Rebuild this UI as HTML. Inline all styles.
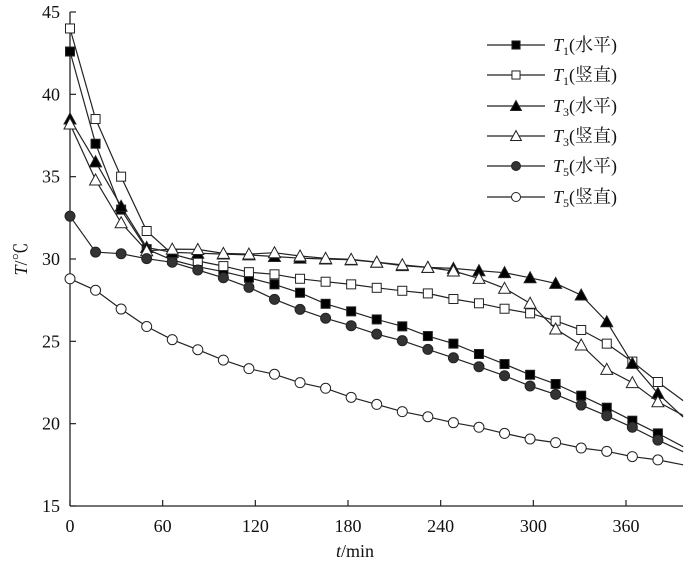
<!DOCTYPE html>
<html><head><meta charset="utf-8"><style>
body{margin:0;background:#fff}
svg{display:block}
text{font-family:"Liberation Serif","Noto Serif CJK SC",serif;fill:#111}
</style></head><body>
<svg id="chart" width="700" height="584" viewBox="0 0 700 584" xmlns="http://www.w3.org/2000/svg">
<g id="axes"></g>
<g id="series"></g>
<g id="legend"></g>
</svg>
<script>
const xTicks=[0,60,120,180,240,300,360];
const yTicks=[15,20,25,30,35,40,45];
const markerStep=16.55;
const endTime=397;
const seriesNames=["T1(水平)","T1(竖直)","T3(水平)","T3(竖直)","T5(水平)","T5(竖直)"];
const T1h=[42.6,37.0,33.0,30.6,29.94,29.53,29.23,28.86,28.46,27.95,27.28,26.82,26.33,25.91,25.32,24.86,24.23,23.62,22.97,22.41,21.7,20.97,20.18,19.41];
const T1hEnd=18.6;
const T1v=[44.0,38.5,35.0,31.7,30.3,29.88,29.57,29.2,29.07,28.8,28.62,28.46,28.25,28.07,27.91,27.57,27.31,26.98,26.7,26.25,25.69,24.86,23.77,22.53];
const T1vEnd=21.4;
const T3h=[38.5,35.9,33.2,30.7,30.4,30.35,30.3,30.25,30.15,30.05,30.0,29.95,29.8,29.6,29.49,29.43,29.29,29.17,28.86,28.52,27.81,26.19,23.66,21.84];
const T3hEnd=20.4;
const T3v=[38.2,34.8,32.2,30.5,30.6,30.58,30.34,30.3,30.38,30.18,30.04,29.98,29.81,29.65,29.49,29.27,28.82,28.22,27.31,25.75,24.78,23.3,22.49,21.33];
const T3vEnd=20.5;
const T5h=[32.6,30.42,30.32,30.02,29.8,29.33,28.86,28.28,27.55,26.94,26.4,25.95,25.44,25.04,24.51,24.0,23.46,22.91,22.29,21.78,21.13,20.48,19.78,19.0];
const T5hEnd=18.3;
const T5v=[28.8,28.1,26.96,25.9,25.1,24.49,23.86,23.34,23.0,22.49,22.15,21.6,21.17,20.73,20.42,20.06,19.78,19.41,19.07,18.85,18.52,18.32,18.0,17.8];
const T5vEnd=17.5;

const NS="http://www.w3.org/2000/svg";
const X0=70,X1=683,Y0=506,Y1=12;
function xs(t){return X0+t*(626-70)/360;}
function ys(v){return Y0-(v-15)*(Y0-Y1)/30;}
function mk(tag,attrs,parent){const e=document.createElementNS(NS,tag);for(const k in attrs)e.setAttribute(k,attrs[k]);parent.appendChild(e);return e;}
const axes=document.getElementById('axes');
let l=mk('line',{x1:X0,y1:Y1,x2:X0,y2:Y0,stroke:'#222','stroke-width':1.3},axes);


l=mk('line',{x1:X0,y1:Y0,x2:X1,y2:Y0,stroke:'#222','stroke-width':1.3},axes);


xTicks.forEach(t=>{
 const tk=mk('line',{x1:xs(t),y1:Y0,x2:xs(t),y2:Y0-6,stroke:'#222','stroke-width':1.2},axes);
 
 
 const tx=mk('text',{x:xs(t),y:Y0+26,'text-anchor':'middle','font-size':18},axes);
 tx.textContent=t;
 
 
});
yTicks.forEach(v=>{
 const tk=mk('line',{x1:X0,y1:ys(v),x2:X0+6,y2:ys(v),stroke:'#222','stroke-width':1.2},axes);
 
 
 const tx=mk('text',{x:X0-10,y:ys(v)+6,'text-anchor':'end','font-size':18},axes);
 tx.textContent=v;
 
 
});
let xt=mk('text',{x:355,y:557,'text-anchor':'middle','font-size':18},axes);
xt.innerHTML='<tspan font-style="italic">t</tspan>/min';


let yt=mk('text',{x:0,y:0,'text-anchor':'middle','font-size':18,transform:'translate(27,259) rotate(-90)'},axes);
yt.innerHTML='<tspan font-style="italic">T</tspan>/℃';



const styles=[
 {d:T1h,e:T1hEnd,shape:'square',fill:'#000',sub:'1',lab:'水平'},
 {d:T1v,e:T1vEnd,shape:'square',fill:'#fff',sub:'1',lab:'竖直'},
 {d:T3h,e:T3hEnd,shape:'tri',fill:'#000',sub:'3',lab:'水平'},
 {d:T3v,e:T3vEnd,shape:'tri',fill:'#fff',sub:'3',lab:'竖直'},
 {d:T5h,e:T5hEnd,shape:'circle',fill:'#333',sub:'5',lab:'水平'},
 {d:T5v,e:T5vEnd,shape:'circle',fill:'#fff',sub:'5',lab:'竖直'}];
function marker(shape,fill,cx,cy,parent,s){
 let e;
 if(shape==='square')e=mk('rect',{x:cx-4.5*s,y:cy-4.5*s,width:9*s,height:9*s,fill:fill,stroke:'#222','stroke-width':1},parent);
 else if(shape==='circle')e=mk('circle',{cx:cx,cy:cy,r:5*s,fill:fill,stroke:'#222','stroke-width':1},parent);
 else e=mk('polygon',{points:`${cx},${cy-6*s} ${cx+6*s},${cy+5*s} ${cx-6*s},${cy+5*s}`,fill:fill,stroke:'#222','stroke-width':1},parent);
 return e;
}
const sg=document.getElementById('series');
styles.forEach((st,i)=>{
 const g=mk('g',{},sg);
 
 
 let pts=st.d.map((v,k)=>xs(k*markerStep).toFixed(1)+','+ys(v).toFixed(1));
 pts.push(xs(endTime).toFixed(1)+','+ys(st.e).toFixed(1));
 const pl=mk('polyline',{points:pts.join(' '),fill:'none',stroke:'#222','stroke-width':1.2},g);
 
 
 st.d.forEach((v,k)=>{
  const m=marker(st.shape,st.fill,xs(k*markerStep),ys(v),g,1);
  
  
 });
});
const lg=document.getElementById('legend');
const rows=[45,75,106,136,166,197];
styles.forEach((st,i)=>{
 const g=mk('g',{},lg);
 
 
 mk('line',{x1:487,y1:rows[i],x2:545,y2:rows[i],stroke:'#222','stroke-width':1.2},g);
 marker(st.shape,st.fill,516,rows[i],g,0.9);
 const t=mk('text',{x:553,y:rows[i]+6,'font-size':18},g);
 t.innerHTML='<tspan font-style="italic">T</tspan><tspan font-size="12" dy="4">'+st.sub+'</tspan><tspan dy="-4">(</tspan><tspan font-family="Noto Serif CJK SC, serif">'+st.lab+'</tspan>)';
});
</script>
</body></html>
